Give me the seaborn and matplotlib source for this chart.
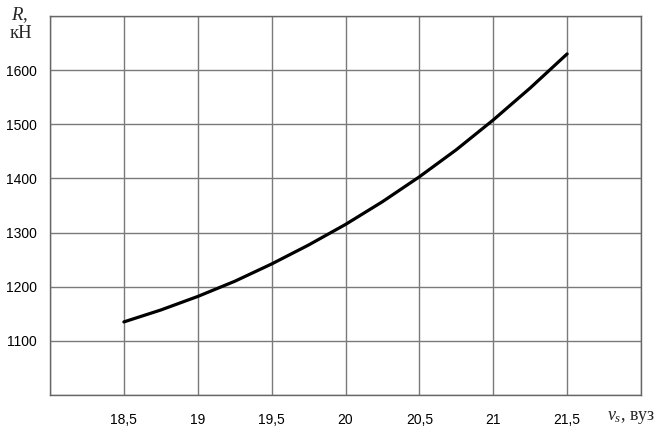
import matplotlib
matplotlib.use("Agg")
import matplotlib.pyplot as plt
import seaborn as sns
import pandas as pd

speed = [18.5, 18.75, 19.0, 19.25, 19.5, 19.75, 20.0, 20.25, 20.5, 20.75, 21.0, 21.25, 21.5]
resistance = [1135, 1157, 1182, 1210, 1242, 1277, 1315, 1357, 1403, 1453, 1508, 1567, 1630]

x_ticks = [18.0, 18.5, 19.0, 19.5, 20.0, 20.5, 21.0, 21.5, 22.0]
x_tick_labels = ["", "18,5", "19", "19,5", "20", "20,5", "21", "21,5", ""]
y_ticks = [1000, 1100, 1200, 1300, 1400, 1500, 1600, 1700]
y_tick_labels = ["", "1100", "1200", "1300", "1400", "1500", "1600", ""]

sns.set_style("white")
plt.rcParams["font.family"] = ["Liberation Sans", "DejaVu Sans"]
plt.rcParams["mathtext.fontset"] = "custom"
plt.rcParams["mathtext.it"] = "Liberation Serif:italic"
plt.rcParams["mathtext.rm"] = "Liberation Serif"

df = pd.DataFrame({"v": speed, "R": resistance})

fig = plt.figure(figsize=(6.61, 4.32), dpi=100)
ax = fig.add_axes([50 / 661, 37 / 432, 591 / 661, 379 / 432])

sns.lineplot(data=df, x="v", y="R", ax=ax, color="black", linewidth=2.3)

ax.set_xlim(18, 22)
ax.set_ylim(1000, 1700)
ax.set_xticks(x_ticks)
ax.set_xticklabels(x_tick_labels)
ax.set_yticks(y_ticks)
ax.set_yticklabels(y_tick_labels)
ax.grid(True, color="#7a7a7a", linewidth=1.0)
ax.set_axisbelow(True)
for s in ax.spines.values():
    s.set_visible(True)
    s.set_color("#666666")
    s.set_linewidth(1.0)
ax.tick_params(axis="both", direction="out", length=4.3, width=1, color="#666666",
               labelsize=10, labelcolor="black")
ax.tick_params(axis="x", pad=8.5)
ax.tick_params(axis="y", pad=5)
ax.set_xlabel("")
ax.set_ylabel("")

fig.text(20 / 661, 1 - 15 / 432, r"$R$,", fontsize=13.5, family="Liberation Serif",
         ha="center", va="center")
fig.text(21 / 661, 1 - 34 / 432, "кН", fontsize=13.5, family="Liberation Serif",
         ha="center", va="center")
fig.text(607 / 661, 1 - 418 / 432, r"$v_s$, вуз", fontsize=13, family="Liberation Serif",
         ha="left", va="center")

fig.savefig("out.png", dpi=100)
